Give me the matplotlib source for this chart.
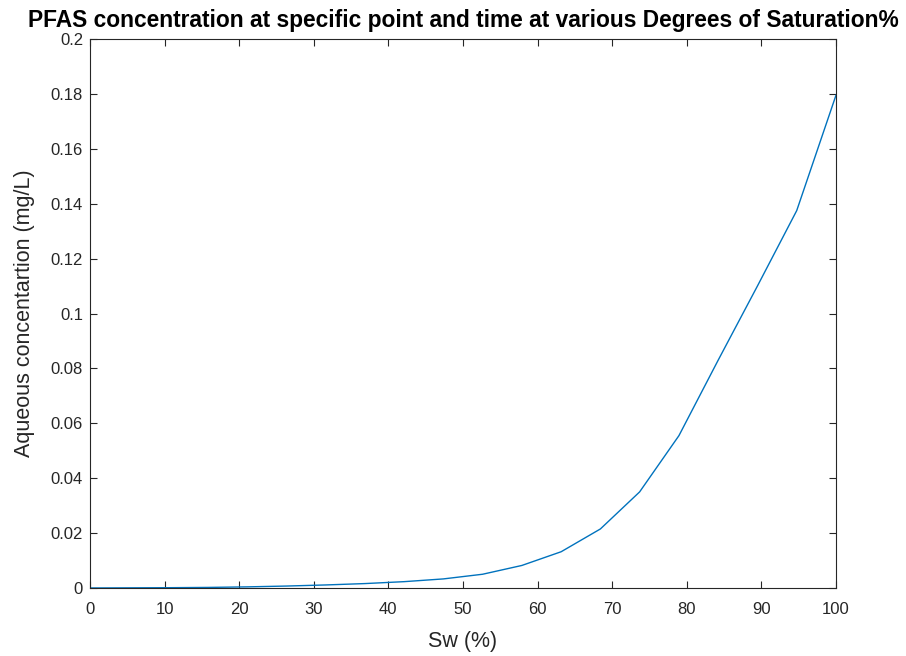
import numpy as np
import matplotlib.pyplot as plt

plt.rcParams['font.family'] = ['Liberation Sans', 'DejaVu Sans']
plt.rcParams['font.size'] = 10

# saturation (%) and aqueous concentration (mg/L)
sw = [0, 5.26, 10.53, 15.79, 21.05, 26.32, 31.58, 36.84, 42.11, 47.37,
      52.63, 57.89, 63.16, 68.42, 73.68, 78.95, 84.21, 89.47, 94.74, 100]
conc = [0, 0.00005, 0.0001, 0.0002, 0.0004, 0.0007, 0.0011, 0.0016, 0.0023, 0.0033,
        0.0050, 0.0082, 0.0132, 0.0215, 0.0350, 0.0555, 0.0830, 0.1100, 0.1375, 0.1795]
yticklabels = ['0', '0.02', '0.04', '0.06', '0.08', '0.1', '0.12', '0.14', '0.16', '0.18', '0.2']

fig = plt.figure(figsize=(9.06, 6.56), dpi=100)
ax = fig.add_axes([0.0993, 0.1037, 0.8234, 0.8368])

ax.plot(sw, conc, color='#0072BD', linewidth=1.0)

ax.set_xlim(0, 100)
ax.set_ylim(0, 0.2)
ax.set_xticks(np.arange(0, 101, 10))
ax.set_yticks(np.arange(0, 0.201, 0.02))
ax.set_yticklabels(yticklabels)

ax.tick_params(direction='in', top=True, right=True, length=5, width=0.8,
               colors='#262626', labelsize=12)
ax.tick_params(axis='x', pad=10)
ax.tick_params(axis='y', pad=5)
for s in ax.spines.values():
    s.set_color('#262626')
    s.set_linewidth(0.8)

ax.set_xlabel('Sw (%)', fontsize=15.5, color='#262626', labelpad=10)
ax.set_ylabel('Aqueous concentartion (mg/L)', fontsize=15.5, color='#262626', labelpad=11.5)
ax.set_title('PFAS concentration at specific point and time at various Degrees of Saturation%',
             fontsize=16.4, fontweight='bold', pad=8.5)

fig.savefig('out.png', dpi=100)
